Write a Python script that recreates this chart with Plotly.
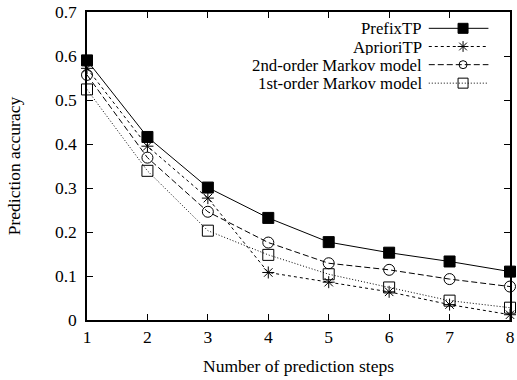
import plotly.graph_objects as go

steps = [1, 2, 3, 4, 5, 6, 7, 8]
prefix_tp = [0.590, 0.416, 0.301, 0.232, 0.177, 0.153, 0.133, 0.110]
apriori_tp = [0.572, 0.395, 0.277, 0.108, 0.086, 0.064, 0.035, 0.012]
markov2 = [0.557, 0.369, 0.246, 0.176, 0.129, 0.114, 0.093, 0.076]
markov1 = [0.524, 0.339, 0.203, 0.148, 0.104, 0.074, 0.044, 0.028]

names = ["PrefixTP", "AprioriTP", "2nd-order Markov model", "1st-order Markov model"]
series = [prefix_tp, apriori_tp, markov2, markov1]
dashes = ["solid", "3px,3px", "6px,3px", "1px,2px"]
symbols = ["square", "asterisk-open", "circle-open", "square-open"]
msizes = [11, 10, 11, 11]
leg_sizes = [10, 9, 8, 10]

FONT = "Liberation Serif"
FS = 17.5
LFS = 16.8
fig = go.Figure()
for n, s, d, sym, ms in zip(names, series, dashes, symbols, msizes):
    fig.add_trace(go.Scatter(
        x=steps, y=s, mode="lines+markers", name=n, showlegend=False,
        line=dict(color="black", width=1, dash=d),
        marker=dict(symbol=sym, size=ms, color="black",
                    line=dict(color="black", width=1)),
        cliponaxis=False))

# custom legend (text on the left, sample on the right), drawn on an overlay axis
leg_y = [0.947, 0.888, 0.829, 0.769]
for i, (n, d, sym, ms) in enumerate(zip(names, dashes, symbols, leg_sizes)):
    fig.add_trace(go.Scatter(
        x=[0.808, 0.949], y=[leg_y[i], leg_y[i]], mode="lines", xaxis="x2", yaxis="y2",
        showlegend=False, line=dict(color="black", width=1, dash=d), hoverinfo="skip"))
    fig.add_trace(go.Scatter(
        x=[0.889], y=[leg_y[i]], mode="markers", xaxis="x2", yaxis="y2",
        showlegend=False, marker=dict(symbol=sym, size=ms, color="black",
                                      line=dict(color="black", width=1)), hoverinfo="skip"))
    fig.add_annotation(x=0.794, y=leg_y[i], xref="x2", yref="y2", text=n,
                       showarrow=False, xanchor="right", yanchor="middle",
                       borderpad=0, height=16,
                       font=dict(family=FONT, size=LFS, color="black"))

axis_common = dict(showline=True, linecolor="black", linewidth=1.5, mirror="ticks",
                   ticks="inside", ticklen=6, tickcolor="black", tickwidth=1,
                   showgrid=False, zeroline=False, ticklabeloverflow="allow",
                   tickfont=dict(family=FONT, size=FS, color="black"))

fig.update_layout(
    width=517, height=380,
    margin=dict(l=87, r=2, t=12, b=60),
    paper_bgcolor="white", plot_bgcolor="white",
    font=dict(family=FONT, size=FS, color="black"),
    xaxis=dict(range=[1, 8], dtick=1, tick0=1,
               title=dict(text="Number of prediction steps", standoff=14,
                          font=dict(family=FONT, size=FS, color="black")),
               **axis_common),
    yaxis=dict(range=[0, 0.7], dtick=0.1, tickformat="~g", ticklabelstandoff=5,
               title=dict(text="Prediction accuracy", standoff=30,
                          font=dict(family=FONT, size=FS, color="black")),
               **axis_common),
    xaxis2=dict(range=[0, 1], overlaying="x", visible=False),
    yaxis2=dict(range=[0, 1], overlaying="y", visible=False),
)

fig.write_html("out.html")
